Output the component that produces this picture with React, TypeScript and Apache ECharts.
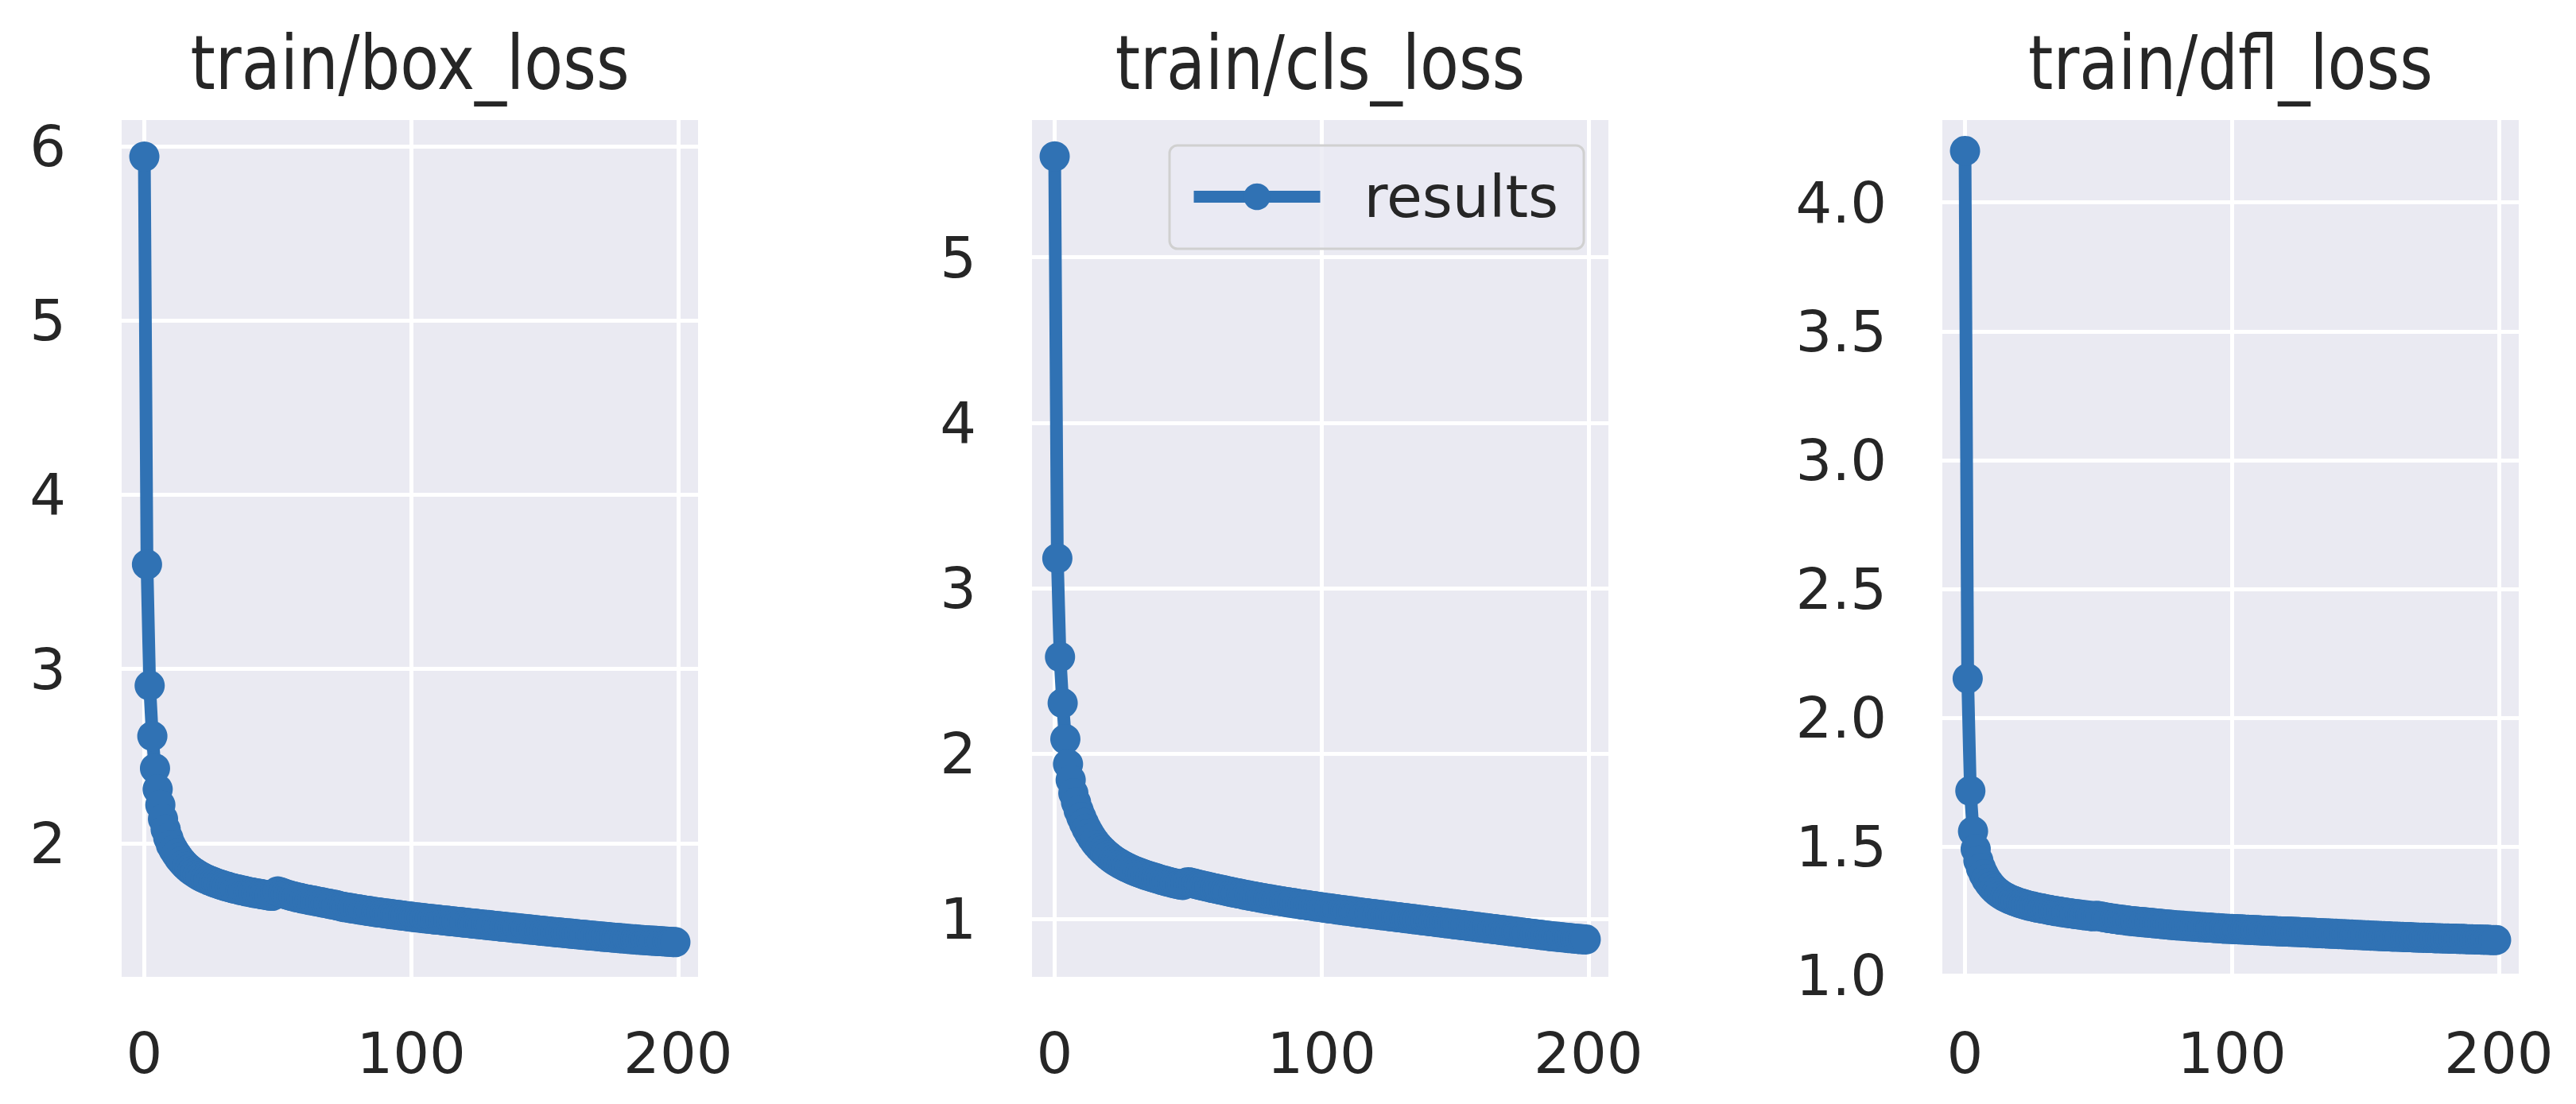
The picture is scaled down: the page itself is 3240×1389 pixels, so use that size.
import React, { useEffect, useRef } from "react";
import * as echarts from "echarts";

// ---------- data ----------
const epochs: number[] = Array.from({ length: 200 }, (_, i) => i);

const boxLoss = [
  5.94, 3.60, 2.905, 2.615, 2.43, 2.31, 2.22, 2.14, 2.08, 2.03,
  1.99, 1.962, 1.938, 1.916, 1.897, 1.880, 1.865, 1.852, 1.840, 1.830,
  1.820, 1.811, 1.803, 1.796, 1.789, 1.783, 1.777, 1.771, 1.766, 1.761,
  1.756, 1.752, 1.747, 1.743, 1.739, 1.736, 1.732, 1.729, 1.725, 1.722,
  1.719, 1.716, 1.713, 1.711, 1.708, 1.705, 1.703, 1.700, 1.699, 1.712,
  1.724, 1.719, 1.713, 1.708, 1.703, 1.699, 1.695, 1.691, 1.688, 1.684,
  1.681, 1.678, 1.675, 1.672, 1.669, 1.666, 1.663, 1.660, 1.657, 1.654,
  1.651, 1.648, 1.645, 1.641, 1.637, 1.634, 1.632, 1.629, 1.627, 1.624,
  1.622, 1.619, 1.617, 1.614, 1.612, 1.610, 1.607, 1.605, 1.603, 1.601,
  1.599, 1.597, 1.595, 1.593, 1.591, 1.589, 1.587, 1.585, 1.583, 1.581,
  1.579, 1.577, 1.575, 1.574, 1.572, 1.570, 1.568, 1.567, 1.565, 1.563,
  1.562, 1.560, 1.558, 1.557, 1.555, 1.553, 1.552, 1.550, 1.549, 1.547,
  1.545, 1.544, 1.542, 1.540, 1.539, 1.537, 1.535, 1.534, 1.532, 1.531,
  1.529, 1.527, 1.526, 1.524, 1.522, 1.521, 1.519, 1.518, 1.516, 1.514,
  1.513, 1.511, 1.510, 1.508, 1.506, 1.505, 1.503, 1.502, 1.500, 1.498,
  1.497, 1.495, 1.494, 1.492, 1.491, 1.489, 1.488, 1.486, 1.485, 1.483,
  1.482, 1.480, 1.479, 1.477, 1.476, 1.474, 1.473, 1.471, 1.470, 1.469,
  1.467, 1.466, 1.464, 1.463, 1.462, 1.460, 1.459, 1.458, 1.456, 1.455,
  1.454, 1.452, 1.451, 1.450, 1.449, 1.447, 1.446, 1.445, 1.444, 1.443,
  1.442, 1.441, 1.440, 1.439, 1.438, 1.437, 1.436, 1.435, 1.434, 1.433,
];

const clsLoss = [
  5.61, 3.18, 2.584, 2.305, 2.087, 1.936, 1.84, 1.76, 1.705, 1.655,
  1.615, 1.578, 1.545, 1.516, 1.490, 1.467, 1.447, 1.429, 1.413, 1.398,
  1.384, 1.371, 1.359, 1.348, 1.338, 1.329, 1.320, 1.312, 1.304, 1.297,
  1.290, 1.284, 1.278, 1.272, 1.266, 1.261, 1.256, 1.251, 1.246, 1.241,
  1.236, 1.232, 1.227, 1.223, 1.219, 1.215, 1.211, 1.208, 1.205, 1.217,
  1.222, 1.219, 1.215, 1.211, 1.207, 1.203, 1.199, 1.196, 1.192, 1.188,
  1.185, 1.181, 1.178, 1.174, 1.171, 1.167, 1.164, 1.160, 1.157, 1.154,
  1.151, 1.147, 1.144, 1.141, 1.138, 1.135, 1.132, 1.129, 1.126, 1.123,
  1.120, 1.118, 1.115, 1.112, 1.110, 1.107, 1.104, 1.102, 1.099, 1.097,
  1.094, 1.092, 1.089, 1.087, 1.085, 1.082, 1.080, 1.078, 1.075, 1.073,
  1.071, 1.068, 1.066, 1.064, 1.062, 1.060, 1.057, 1.055, 1.053, 1.051,
  1.049, 1.047, 1.045, 1.042, 1.040, 1.038, 1.036, 1.034, 1.032, 1.030,
  1.028, 1.026, 1.024, 1.022, 1.020, 1.018, 1.016, 1.014, 1.012, 1.010,
  1.008, 1.006, 1.004, 1.002, 1.000, 0.998, 0.996, 0.994, 0.992, 0.990,
  0.988, 0.986, 0.984, 0.982, 0.980, 0.978, 0.976, 0.974, 0.972, 0.970,
  0.968, 0.966, 0.964, 0.962, 0.960, 0.958, 0.956, 0.954, 0.952, 0.950,
  0.948, 0.946, 0.944, 0.942, 0.940, 0.938, 0.936, 0.934, 0.932, 0.930,
  0.928, 0.926, 0.924, 0.922, 0.920, 0.918, 0.916, 0.914, 0.912, 0.910,
  0.908, 0.906, 0.904, 0.902, 0.900, 0.898, 0.896, 0.894, 0.893, 0.891,
  0.889, 0.888, 0.886, 0.884, 0.883, 0.881, 0.880, 0.878, 0.877, 0.876,
];

const dflLoss = [
  4.20, 2.152, 1.716, 1.559, 1.49, 1.445, 1.415, 1.392, 1.373, 1.358,
  1.345, 1.334, 1.325, 1.317, 1.310, 1.304, 1.299, 1.294, 1.290, 1.286,
  1.282, 1.279, 1.276, 1.273, 1.270, 1.268, 1.265, 1.263, 1.261, 1.259,
  1.257, 1.255, 1.253, 1.251, 1.249, 1.248, 1.246, 1.244, 1.243, 1.241,
  1.240, 1.238, 1.237, 1.236, 1.234, 1.233, 1.232, 1.230, 1.229, 1.231,
  1.230, 1.228, 1.226, 1.224, 1.222, 1.221, 1.219, 1.218, 1.216, 1.215,
  1.214, 1.212, 1.211, 1.210, 1.209, 1.208, 1.207, 1.206, 1.205, 1.204,
  1.203, 1.202, 1.201, 1.200, 1.199, 1.198, 1.197, 1.196, 1.195, 1.194,
  1.193, 1.193, 1.192, 1.191, 1.190, 1.190, 1.189, 1.188, 1.187, 1.187,
  1.186, 1.185, 1.185, 1.184, 1.183, 1.183, 1.182, 1.181, 1.181, 1.180,
  1.180, 1.179, 1.179, 1.178, 1.178, 1.177, 1.177, 1.176, 1.176, 1.175,
  1.175, 1.174, 1.174, 1.173, 1.173, 1.172, 1.172, 1.171, 1.171, 1.170,
  1.170, 1.170, 1.169, 1.169, 1.168, 1.168, 1.167, 1.167, 1.166, 1.166,
  1.165, 1.165, 1.164, 1.164, 1.163, 1.163, 1.162, 1.162, 1.161, 1.161,
  1.160, 1.160, 1.159, 1.159, 1.158, 1.158, 1.157, 1.157, 1.156, 1.156,
  1.155, 1.155, 1.154, 1.154, 1.153, 1.153, 1.152, 1.152, 1.151, 1.151,
  1.150, 1.150, 1.150, 1.149, 1.149, 1.148, 1.148, 1.148, 1.147, 1.147,
  1.146, 1.146, 1.146, 1.145, 1.145, 1.145, 1.144, 1.144, 1.144, 1.143,
  1.143, 1.143, 1.142, 1.142, 1.142, 1.141, 1.141, 1.141, 1.140, 1.140,
  1.140, 1.139, 1.139, 1.139, 1.138, 1.138, 1.138, 1.137, 1.137, 1.137,
];

const titles = ["train/box_loss", "train/cls_loss", "train/dfl_loss"];
const seriesName = "results";
const xTicks = [0, 100, 200];
const yTicksBox = [2, 3, 4, 5, 6];
const yTicksCls = [1, 2, 3, 4, 5];
const yTicksDfl = [1.0, 1.5, 2.0, 2.5, 3.0, 3.5, 4.0];

// ---------- layout / style ----------
const W = 3240;
const H = 1389;
const FONT = "DejaVu Sans";
const LINE_COLOR = "#3072b4";
const TEXT_COLOR = "#262626";
const BG = "#eaeaf2";
const gridLefts = [153, 1298, 2443];
const gridTop = 151;
const gridW = 725;
const gridH = 1078;
const xRange = [-8.5, 207.5];

const panels = [
  { values: boxLoss, yTicks: yTicksBox, yMin: 1.234, yMax: 6.15, dec: 0 },
  { values: clsLoss, yTicks: yTicksCls, yMin: 0.65, yMax: 5.83, dec: 0 },
  { values: dflLoss, yTicks: yTicksDfl, yMin: 0.994, yMax: 4.32, dec: 1 },
];

export default function App() {
  const ref = useRef<HTMLDivElement | null>(null);

  useEffect(() => {
    if (!ref.current) return;
    const chart = echarts.init(ref.current, null, { renderer: "svg", width: W, height: H });

    const option: any = {
      animation: false,
      backgroundColor: "#ffffff",
      textStyle: { fontFamily: FONT },
      grid: panels.map((_, i) => ({
        left: gridLefts[i],
        top: gridTop,
        width: gridW,
        height: gridH,
        show: true,
        backgroundColor: BG,
        borderWidth: 0,
      })),
      xAxis: panels.map((_, i) => ({
        type: "value",
        gridIndex: i,
        min: xRange[0],
        max: xRange[1],
        axisLine: { show: false },
        axisTick: { show: false, customValues: xTicks },
        axisLabel: {
          customValues: xTicks,
          fontSize: 72,
          fontFamily: FONT,
          color: TEXT_COLOR,
          margin: 60,
          formatter: (v: number) => String(v),
        },
        splitLine: { show: true, lineStyle: { color: "#ffffff", width: 5 } },
      })),
      yAxis: panels.map((p, i) => ({
        type: "value",
        gridIndex: i,
        min: p.yMin,
        max: p.yMax,
        axisLine: { show: false },
        axisTick: { show: false, customValues: p.yTicks },
        axisLabel: {
          customValues: p.yTicks,
          fontSize: 72,
          fontFamily: FONT,
          color: TEXT_COLOR,
          margin: 70,
          formatter: (v: number) => v.toFixed(p.dec),
        },
        splitLine: { show: true, lineStyle: { color: "#ffffff", width: 5 } },
      })),
      legend: {
        show: true,
        data: [seriesName],
        left: 1471,
        top: 183,
        orient: "horizontal",
        padding: [28, 32, 29, 23],
        backgroundColor: "rgba(234,234,242,0.8)",
        borderColor: "#d0d0d0",
        borderWidth: 3,
        borderRadius: 10,
        itemWidth: 159,
        itemHeight: 42,
        itemGap: 0,
        selectedMode: false,
        lineStyle: { width: 15 },
        textStyle: {
          fontSize: 73,
          fontFamily: FONT,
          color: TEXT_COLOR,
          padding: [0, 0, 0, 50],
        },
      },
      graphic: titles.map((t, i) => ({
        type: "text",
        x: gridLefts[i] + gridW / 2,
        y: 80,
        scaleY: 1.18,
        silent: true,
        style: {
          text: t,
          fontSize: 80,
          fontFamily: FONT,
          fill: TEXT_COLOR,
          align: "center",
          verticalAlign: "middle",
        },
      })),
      series: panels.map((p, i) => ({
        type: "line",
        name: seriesName,
        xAxisIndex: i,
        yAxisIndex: i,
        data: epochs.map((e, k) => [e, p.values[k]]),
        symbol: "circle",
        symbolSize: 38,
        showSymbol: true,
        showAllSymbol: true,
        lineStyle: { width: 16, color: LINE_COLOR },
        itemStyle: { color: LINE_COLOR },
        emphasis: { disabled: true },
        silent: true,
      })),
    };

    chart.setOption(option);
    return () => {
      chart.dispose();
    };
  }, []);

  return (
    <div
      ref={ref}
      style={{ position: "absolute", left: 0, top: 0, width: W, height: H }}
    />
  );
}
